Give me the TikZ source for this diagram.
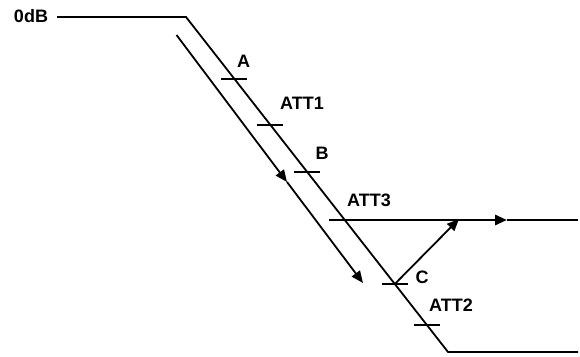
\documentclass[tikz,border=0pt]{standalone}
\usepackage{fontspec}
\setmainfont{Liberation Sans}
\usetikzlibrary{arrows.meta,calc}
\begin{document}
\begin{tikzpicture}[x=1pt,y=-1pt,
  lbl/.style={font=\bfseries\fontsize{18}{21}\selectfont, inner sep=0pt},
  curve/.style={line width=1.8pt},
  tickmark/.style={line width=1.8pt},
  thick line/.style={line width=2.8pt},
  tri/.style={-{Triangle[length=12pt,width=10pt]}}]
\useasboundingbox (0,0) rectangle (580,356);
% main response curve
\coordinate (P0) at (57,17);
\coordinate (P1) at (186,17);
\coordinate (P2) at (448,352);
\coordinate (P3) at (578,352);
\draw[curve] (P0) -- (P1) -- (P2) -- (P3);
% tick marks on the slope
\foreach \n/\t in {tA/0.185, t1/0.322, tB/0.463, tC/0.797, t2/0.919}{
  \coordinate (\n) at ($(P1)!\t!(P2)$);
  \draw[tickmark] ([xshift=-13pt]\n) -- ([xshift=13pt]\n);
}
% parallel arrow line
\coordinate (S) at (176.5,35);
\coordinate (M) at (287,182);
\coordinate (E) at (363,283);
\draw[curve,tri] (S) -- (M);
\draw[curve,tri] (M) -- (E);
% ATT3 line
\coordinate (H0) at (329,220);
\coordinate (H1) at (507,220);
\coordinate (H2) at (578,220);
\draw[thick line,tri] (H0) -- (H1);
\draw[thick line] (H1) -- (H2);
% arrow from C
\coordinate (K) at (459,219);
\draw[curve,tri] (tC) -- (K);
% labels
\node[lbl] (l0) at (31,16) {0dB};
\node[lbl] (lA) at (243.5,61) {A};
\node[lbl] (l1) at (302,103) {ATT1};
\node[lbl] (lB) at (322,153.5) {B};
\node[lbl] (l3) at (369,200) {ATT3};
\node[lbl] (lC) at (422,277.5) {C};
\node[lbl] (l2) at (451,305) {ATT2};
\end{tikzpicture}
\end{document}
